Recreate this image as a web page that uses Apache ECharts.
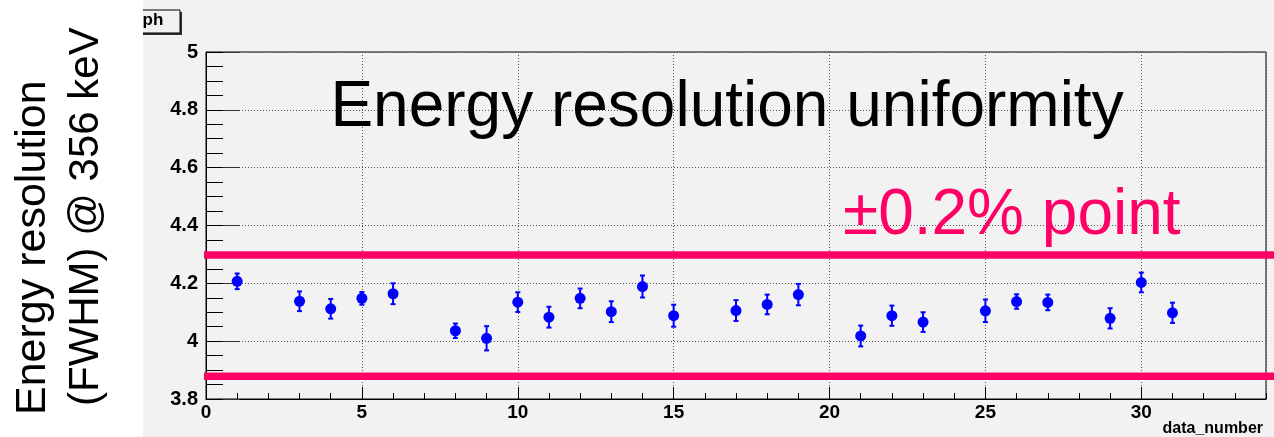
<!DOCTYPE html>
<html><head><meta charset="utf-8">
<script src="https://cdn.jsdelivr.net/npm/echarts@6/dist/echarts.min.js"></script>
<style>html,body{margin:0;padding:0;background:#fff}#c{width:1274px;height:437px}</style>
</head><body><div id="c"></div>
<script>
// ---- data ----
const dataNumber = [1, 3, 4, 5, 6, 8, 9, 10, 11, 12, 13, 14, 15, 17, 18, 19, 21, 22, 23, 25, 26, 27, 29, 30, 31];
const resolution = [4.207, 4.138, 4.112, 4.148, 4.164, 4.036, 4.010, 4.135, 4.083, 4.148, 4.102, 4.189, 4.088,
                    4.106, 4.127, 4.161, 4.018, 4.088, 4.066, 4.105, 4.137, 4.134, 4.079, 4.203, 4.098];
const resolutionErr = [0.027, 0.034, 0.034, 0.022, 0.036, 0.025, 0.042, 0.034, 0.036, 0.034, 0.036, 0.038, 0.038,
                       0.036, 0.034, 0.037, 0.036, 0.035, 0.034, 0.039, 0.025, 0.027, 0.035, 0.034, 0.035];
const bandLevels = [4.3, 3.882];
const titleText = 'Energy resolution uniformity';
const bandText = '\u00b10.2% point';
const yTitleLine1 = 'Energy resolution';
const yTitleLine2 = '(FWHM) @ 356 keV';
const xTitle = 'data_number';
const boxText = 'ph';

// ---- chart ----
const FONT = "'Liberation Sans', Arial, Helvetica, sans-serif";
const points = dataNumber.map((x, i) => [x, resolution[i]]);
const bars = dataNumber.map((x, i) => [x, resolution[i] - resolutionErr[i], resolution[i] + resolutionErr[i]]);

const chart = echarts.init(document.getElementById('c'), null, {renderer: 'canvas'});

const bandSeries = bandLevels.map(v => ({
  type: 'line', xAxisIndex: 2, yAxisIndex: 2, silent: true, symbol: 'none', z: 3,
  data: [[0, v], [1, v]],
  lineStyle: {color: '#ff0066', width: 7.5, cap: 'butt'}
}));

const option = {
  animation: false,
  backgroundColor: '#f2f2f2',
  grid: [
    {left: 206, right: 8, top: 52, bottom: 37, show: true, borderColor: '#000', borderWidth: 1, backgroundColor: 'transparent'},
    {left: 204, right: 0, top: 52, bottom: 37}
  ],
  xAxis: [
    {
      gridIndex: 0, type: 'value', min: 0, max: 34, interval: 5, position: 'bottom',
      axisLine: {lineStyle: {color: '#000', width: 1}},
      axisTick: {inside: true, length: 12, lineStyle: {color: '#000'}},
      axisLabel: {showMaxLabel: false, fontFamily: FONT, fontWeight: 'bold', fontSize: 19, color: '#000', margin: 4},
      splitLine: {show: true, lineStyle: {color: '#555', type: [1, 2], width: 1}},
      name: xTitle, nameLocation: 'end', nameGap: -3,
      nameTextStyle: {fontFamily: FONT, fontWeight: 'bold', fontSize: 16, color: '#000', align: 'right', verticalAlign: 'top', padding: [22, 0, 0, 0]}
    },
    {
      gridIndex: 0, type: 'value', min: 0, max: 34, interval: 1, position: 'bottom',
      axisLine: {show: false}, axisLabel: {show: false}, splitLine: {show: false},
      axisTick: {inside: true, length: 6, lineStyle: {color: '#000'}}
    },
    {gridIndex: 1, type: 'value', min: 0, max: 1, show: false}
  ],
  yAxis: [
    {
      gridIndex: 0, type: 'value', min: 3.8, max: 5, interval: 0.2, position: 'left',
      axisLine: {show: true, lineStyle: {color: '#000', width: 1}},
      axisTick: {show: true, inside: true, length: 34, lineStyle: {color: '#333'}},
      axisLabel: {fontFamily: FONT, fontWeight: 'bold', fontSize: 20, color: '#000', margin: 8},
      splitLine: {show: true, lineStyle: {color: '#555', type: [1, 2], width: 1}}
    },
    {
      gridIndex: 0, type: 'value', min: 3.8, max: 5, interval: 0.05, position: 'left',
      axisLine: {show: false}, axisLabel: {show: false}, splitLine: {show: false},
      axisTick: {show: true, inside: true, length: 17, lineStyle: {color: '#000'}}
    },
    {gridIndex: 1, type: 'value', min: 3.8, max: 5, show: false}
  ],
  series: [
    ...bandSeries,
    {
      type: 'custom', xAxisIndex: 0, yAxisIndex: 0, z: 4, silent: true,
      data: bars, encode: {x: 0, y: [1, 2]},
      renderItem: function (params, api) {
        const x = api.value(0);
        const lo = api.coord([x, api.value(1)]);
        const hi = api.coord([x, api.value(2)]);
        const cap = 2.5;
        const style = {stroke: '#0000ff', lineWidth: 2};
        return {type: 'group', children: [
          {type: 'line', shape: {x1: lo[0], y1: lo[1], x2: hi[0], y2: hi[1]}, style: style},
          {type: 'line', shape: {x1: lo[0] - cap, y1: lo[1], x2: lo[0] + cap, y2: lo[1]}, style: style},
          {type: 'line', shape: {x1: hi[0] - cap, y1: hi[1], x2: hi[0] + cap, y2: hi[1]}, style: style}
        ]};
      }
    },
    {
      type: 'scatter', xAxisIndex: 0, yAxisIndex: 0, z: 5, silent: true,
      data: points, symbol: 'circle', symbolSize: 11,
      itemStyle: {color: '#0000ff', opacity: 1}
    }
  ],
  graphic: [
    {type: 'rect', z: 50, shape: {x: 122, y: 12, width: 60, height: 23}, style: {fill: '#333'}},
    {type: 'rect', z: 51, shape: {x: 120, y: 10, width: 60, height: 23}, style: {fill: '#f2f2f2', stroke: '#000', lineWidth: 1}},
    {type: 'text', z: 52, x: 142.5, y: 20, style: {text: boxText, fontFamily: FONT, fontWeight: 'bold', fontSize: 17, fill: '#000', align: 'left', verticalAlign: 'middle'}},
    {type: 'rect', z: 60, shape: {x: 0, y: 0, width: 143, height: 437}, style: {fill: '#ffffff'}},
    {type: 'text', z: 61, x: 33, y: 415, rotation: Math.PI / 2, style: {text: yTitleLine1, fontFamily: FONT, fontSize: 43, fill: '#000', align: 'left', verticalAlign: 'middle'}},
    {type: 'text', z: 61, x: 86, y: 406, rotation: Math.PI / 2, style: {text: yTitleLine2, fontFamily: FONT, fontSize: 42, fill: '#000', align: 'left', verticalAlign: 'middle'}},
    {type: 'text', z: 40, x: 727, y: 108, style: {text: titleText, fontFamily: FONT, fontSize: 64, fill: '#000', align: 'center', verticalAlign: 'middle'}},
    {type: 'text', z: 40, x: 843, y: 216, style: {text: bandText, fontFamily: FONT, fontSize: 64, fill: '#ff0066', align: 'left', verticalAlign: 'middle'}}
  ]
};
chart.setOption(option);
</script>
</body></html>
